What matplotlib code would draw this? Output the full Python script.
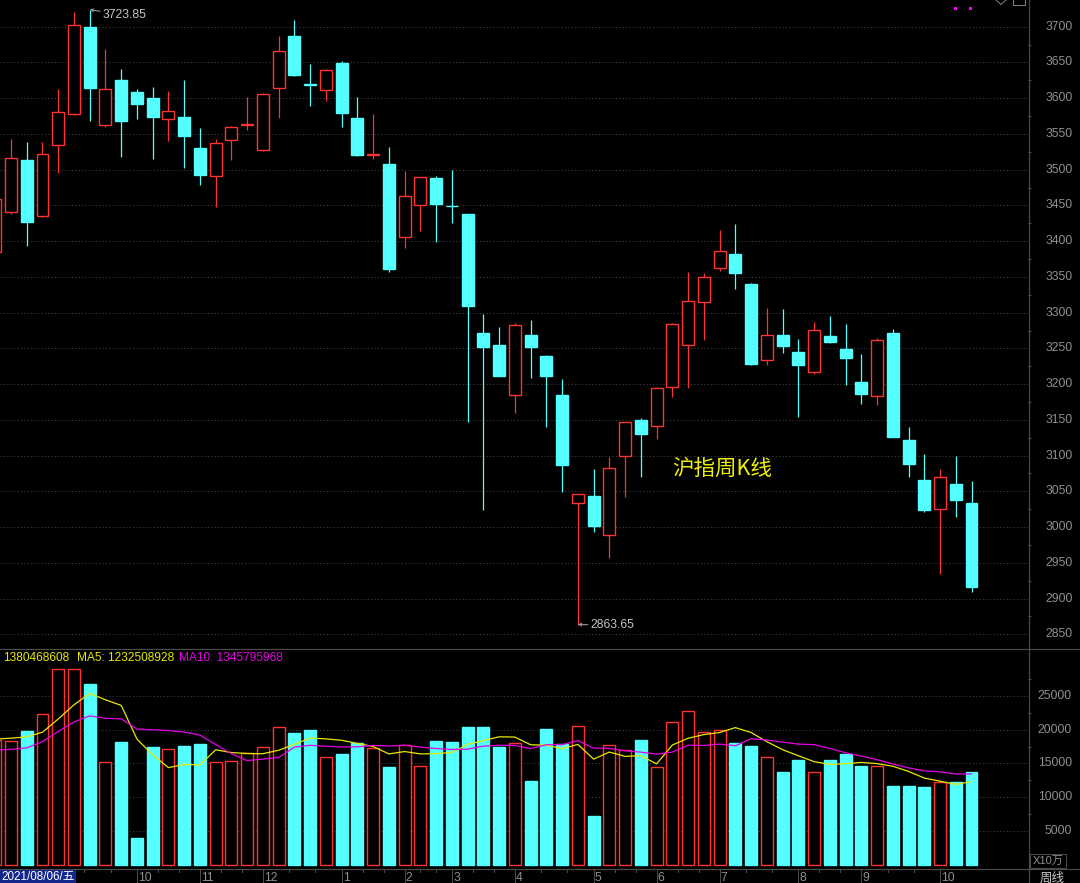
import numpy as np
import pandas as pd
import matplotlib
matplotlib.use("Agg")
import matplotlib.pyplot as plt
from matplotlib.lines import Line2D
from matplotlib.patches import Rectangle

plt.rcParams["font.family"] = ["Liberation Sans", "Noto Sans CJK SC", "DejaVu Sans"]

# ---------------------------------------------------------------------------
# Data: Shanghai Composite weekly bars
# ---------------------------------------------------------------------------
weeks = [
    "2021-08-06", "2021-08-13", "2021-08-20", "2021-08-27", "2021-09-03",
    "2021-09-10", "2021-09-17", "2021-09-24", "2021-09-30", "2021-10-08",
    "2021-10-15", "2021-10-22", "2021-10-29", "2021-11-05", "2021-11-12",
    "2021-11-19", "2021-11-26", "2021-12-03", "2021-12-10", "2021-12-17",
    "2021-12-24", "2021-12-31", "2022-01-07", "2022-01-14", "2022-01-21",
    "2022-01-28", "2022-02-11", "2022-02-18", "2022-02-25", "2022-03-04",
    "2022-03-11", "2022-03-18", "2022-03-25", "2022-04-01", "2022-04-08",
    "2022-04-15", "2022-04-22", "2022-04-29", "2022-05-06", "2022-05-13",
    "2022-05-20", "2022-05-27", "2022-06-02", "2022-06-10", "2022-06-17",
    "2022-06-24", "2022-07-01", "2022-07-08", "2022-07-15", "2022-07-22",
    "2022-07-29", "2022-08-05", "2022-08-12", "2022-08-19", "2022-08-26",
    "2022-09-02", "2022-09-09", "2022-09-16", "2022-09-23", "2022-09-30",
    "2022-10-14", "2022-10-21", "2022-10-28",
]
opens = [
    3385.2, 3441.2, 3513.1, 3435.6, 3534.5, 3578.3, 3699.2, 3562.1, 3625.9, 3608.2,
    3599.8, 3570.5, 3573.7, 3529.9, 3490.7, 3541.5, 3562.2, 3527.9, 3614.2, 3686.6,
    3619.4, 3611.9, 3649.6, 3572.3, 3521.2, 3507.9, 3406.2, 3451.0, 3488.3, 3449.6,
    3437.5, 3271.1, 3254.7, 3184.3, 3268.3, 3239.7, 3184.7, 3033.2, 3043.4, 2989.3,
    3099.0, 3149.3, 3141.0, 3195.5, 3254.3, 3314.9, 3362.8, 3381.6, 3340.0, 3233.7,
    3268.3, 3245.3, 3217.3, 3267.3, 3249.1, 3202.5, 3182.9, 3271.1, 3121.4, 3066.3,
    3024.8, 3059.8, 3033.2,
]
highs = [
    3470.0, 3542.5, 3538.3, 3538.3, 3612.4, 3720.6, 3723.85, 3668.4, 3640.8, 3612.4,
    3615.2, 3609.6, 3625.0, 3558.7, 3542.5, 3560.5, 3601.2, 3607.0, 3686.6, 3709.0,
    3647.8, 3641.0, 3652.0, 3601.6, 3577.9, 3531.3, 3498.1, 3490.0, 3491.1, 3499.5,
    3438.5, 3297.6, 3279.9, 3285.0, 3289.3, 3240.5, 3207.1, 3046.5, 3081.6, 3098.0,
    3147.5, 3152.0, 3196.0, 3285.0, 3356.4, 3355.0, 3415.6, 3424.0, 3341.0, 3306.0,
    3304.6, 3263.1, 3286.5, 3295.3, 3284.1, 3242.5, 3264.0, 3276.7, 3139.6, 3102.2,
    3081.6, 3099.4, 3064.0,
]
lows = [
    3370.0, 3438.4, 3393.6, 3434.0, 3495.7, 3577.0, 3568.5, 3560.1, 3518.1, 3571.3,
    3515.3, 3539.7, 3502.7, 3478.1, 3447.8, 3513.9, 3555.1, 3526.0, 3572.7, 3631.0,
    3589.1, 3596.1, 3560.1, 3519.5, 3515.3, 3357.2, 3390.0, 3414.6, 3399.2, 3425.8,
    3147.0, 3023.4, 3211.0, 3159.1, 3208.5, 3140.0, 3049.0, 2863.65, 2992.7, 2957.1,
    3042.5, 3069.6, 3123.6, 3181.5, 3195.0, 3261.7, 3358.6, 3332.6, 3227.0, 3226.7,
    3243.1, 3154.4, 3214.5, 3258.0, 3199.2, 3172.6, 3171.2, 3126.0, 3070.4, 3021.5,
    2933.9, 3013.7, 2908.7,
]
closes = [
    3458.5, 3515.9, 3427.2, 3521.5, 3580.2, 3702.8, 3613.8, 3612.4, 3568.5, 3592.3,
    3573.3, 3581.6, 3546.7, 3492.1, 3537.7, 3559.7, 3563.4, 3606.3, 3665.6, 3632.0,
    3618.6, 3639.4, 3579.7, 3520.5, 3522.0, 3361.4, 3462.7, 3489.7, 3452.4, 3448.8,
    3309.3, 3251.5, 3211.3, 3282.3, 3251.5, 3211.3, 3086.4, 3045.8, 3001.0, 3083.0,
    3146.6, 3130.6, 3194.1, 3283.7, 3316.7, 3349.4, 3386.6, 3355.8, 3227.7, 3268.3,
    3252.9, 3226.3, 3275.3, 3258.5, 3236.1, 3186.6, 3261.3, 3126.4, 3087.8, 3024.3,
    3070.4, 3038.3, 2916.1,
]
# weekly volume, unit X10万 shares
volumes = [
    18465, 18317, 19838, 22258, 28945, 28945, 26686, 15173, 18125, 4044,
    17387, 17181, 17535, 17830, 15173, 15321, 16502, 17387, 20384, 19542,
    19941, 15911, 16354, 18066, 17240, 14480, 17683, 14583, 18273, 18125,
    20428, 20428, 17432, 18066, 12458, 20133, 17875, 20531, 7203, 17683,
    16945, 18421, 14435, 21122, 22701, 19646, 19941, 18066, 17535, 15911,
    13742, 15469, 13697, 15520, 16450, 14627, 14627, 11720, 11720, 11572,
    12280, 12250, 13805,
]
# weeks just left of the window (only used to seed the MA lines)
earlier_volumes = [16800, 17800, 13000, 14000, 14900, 17600, 18900, 18800, 19200]

price_ticks = list(range(2850, 3701, 50))
volume_ticks = [5000, 10000, 15000, 20000, 25000]
header_last = "1380468608"
header_ma5 = "MA5: 1232508928"
header_ma10 = "MA10: 1345795968"
title_text = "沪指周K线"
weekday_names = ["一", "二", "三", "四", "五", "六", "日"]

# ---------------------------------------------------------------------------
# Styling
# ---------------------------------------------------------------------------
UP = "#ff3232"
DOWN = "#54ffff"
BG = "black"
GRID = "#3c3c3c"
FRAME = "#4a4a4a"
TXT = "#8f8f8f"
YELLOW = "#e8e800"
MAGENTA = "#e600e6"
PX = 0.72  # one pixel in points at dpi 100
EDGE_LW = 1.0

W, H = 1080, 883


def fx(px):
    return px / W


def fy(py):
    return 1 - py / H


fig = plt.figure(figsize=(W / 100, H / 100), dpi=100, facecolor=BG)
ax = fig.add_axes([0, fy(648), fx(1028), 648 / H])
axv = fig.add_axes([0, fy(868), fx(1028), (868 - 650) / H], sharex=ax)
axx = fig.add_axes([0, 0, fx(1028), (883 - 869) / H], sharex=ax)
for a in (ax, axv, axx):
    a.set_facecolor(BG)
    for s in a.spines.values():
        s.set_visible(False)

n = len(closes)
x = np.arange(n)
o = np.array(opens)
h = np.array(highs)
l = np.array(lows)
c = np.array(closes)
v = np.array(volumes, dtype=float)
up = c >= o
edge = np.where(up, UP, DOWN)
face = np.where(up, BG, DOWN)

# ---------------------------------------------------------------------------
# Price panel
# ---------------------------------------------------------------------------
ax.vlines(x, l, h, colors=edge, lw=0.9, zorder=2)
body_lo = np.minimum(o, c)
body_h = np.maximum(np.abs(c - o), 0.8)
ax.bar(x, body_h, width=0.76, bottom=body_lo, color=face, edgecolor=edge,
       lw=EDGE_LW, zorder=3)

ax.set_xlim(0.3014, 65.588)
ax.set_ylim(2830.8, 3737.4)
ax.set_yticks(price_ticks)
ax.set_yticks([p + 25 for p in price_ticks[:-1]], minor=True)
ax.yaxis.set_ticks_position("right")
ax.tick_params(axis="y", which="major", length=0, labelright=False)
ax.tick_params(axis="y", which="minor", length=3 * PX, width=PX, color=FRAME,
               direction="out")
ax.tick_params(axis="x", which="both", length=0, labelbottom=False)
ax.grid(axis="y", which="major", color=GRID, linestyle=(0, (1.2, 2.2)), lw=PX)
for p in price_ticks:
    ax.text(1073 / 1028, p, str(p), transform=ax.get_yaxis_transform(),
            ha="right", va="center", color=TXT, fontsize=8.7, clip_on=False)

i_hi = int(np.argmax(h))
i_lo = int(np.argmin(l))
ax.annotate(f"{h[i_hi]:.2f}", xy=(x[i_hi], h[i_hi]), xytext=(9.5, -3.8),
            textcoords="offset points", color="#c4c4c4", fontsize=8.7,
            ha="left", va="center",
            arrowprops=dict(arrowstyle="->", color="#a0a0a0", lw=PX,
                            shrinkA=0, shrinkB=0, mutation_scale=5))
ax.annotate(f"{l[i_lo]:.2f}", xy=(x[i_lo], l[i_lo]), xytext=(9.2, -0.5),
            textcoords="offset points", color="#c4c4c4", fontsize=8.7,
            ha="left", va="center",
            arrowprops=dict(arrowstyle="->", color="#a0a0a0", lw=PX,
                            shrinkA=0, shrinkB=0, mutation_scale=5))

ax.text(722 / 1028, 1 - 469 / 648, title_text, transform=ax.transAxes,
        ha="center", va="center", color="#f0f000", fontsize=15.5,
        family=["Noto Sans CJK SC", "DejaVu Sans"])

# ---------------------------------------------------------------------------
# Volume panel
# ---------------------------------------------------------------------------
axv.bar(x, v, width=0.76, color=face, edgecolor=edge, lw=EDGE_LW, zorder=3)
vol_all = pd.Series(earlier_volumes + volumes, dtype=float)
ma5 = vol_all.rolling(5).mean().to_numpy()[len(earlier_volumes):]
ma10 = vol_all.rolling(10).mean().to_numpy()[len(earlier_volumes):]
axv.plot(x, ma5, color=YELLOW, lw=0.9, zorder=4)
axv.plot(x, ma10, color=MAGENTA, lw=0.9, zorder=4)

axv.set_ylim(-428, 31750)
axv.set_yticks(volume_ticks)
axv.set_yticks([t + 2500 for t in volume_ticks], minor=True)
axv.yaxis.set_ticks_position("right")
axv.tick_params(axis="y", which="major", length=0, labelright=False)
axv.tick_params(axis="y", which="minor", length=3 * PX, width=PX, color=FRAME,
                direction="out")
axv.tick_params(axis="x", which="both", length=0, labelbottom=False)
axv.grid(axis="y", which="major", color=GRID, linestyle=(0, (1.2, 2.2)), lw=PX)
for t in volume_ticks:
    axv.text(1072 / 1028, t, str(t), transform=axv.get_yaxis_transform(),
             ha="right", va="center", color=TXT, fontsize=8.7, clip_on=False)

fig.text(fx(3), fy(657.8), header_last, color=YELLOW, fontsize=8.6,
         ha="left", va="center")
fig.text(fx(77), fy(657.8), header_ma5, color=YELLOW, fontsize=8.6,
         ha="left", va="center")
fig.text(fx(179), fy(657.8), header_ma10, color=MAGENTA, fontsize=8.6,
         ha="left", va="center")

# ---------------------------------------------------------------------------
# Date strip
# ---------------------------------------------------------------------------
DATE_BOX_PX = 76
axx.set_ylim(0, 1)
axx.set_xticks([])
axx.set_yticks([])
dates = pd.to_datetime(weeks)
months = dates.month.to_numpy()
starts = [k for k in range(1, n) if months[k] != months[k - 1]]
fig.canvas.draw()
for k in starts:
    xpix = ax.transData.transform((x[k], 0))[0]
    if xpix < DATE_BOX_PX + 8:  # hidden under the date box
        continue
    axx.axvline(x[k], color=FRAME, lw=PX)
    axx.text(x[k] + 0.08, 0.38, str(months[k]), color=TXT, fontsize=8.7,
             ha="left", va="center")
for a, b in zip(starts[:-1], starts[1:]):
    for frac in (1 / 3, 2 / 3):
        axx.axvline(a + (b - a) * frac, ymin=0.78, ymax=1, color=FRAME, lw=PX)

first = dates[0]
fig.patches.append(Rectangle((0, fy(883)), fx(DATE_BOX_PX), 13 / H,
                             transform=fig.transFigure, facecolor="#14288c",
                             edgecolor="none", zorder=5))
fig.text(fx(1.5), fy(877.5),
         first.strftime("%Y/%m/%d/") + weekday_names[first.weekday()],
         color="white", fontsize=8.4, ha="left", va="center", zorder=6)

# ---------------------------------------------------------------------------
# Frame lines and right-side bits
# ---------------------------------------------------------------------------
frame_lines = [
    ([0, 1], [fy(649), fy(649)]),
    ([0, 1], [fy(869), fy(869)]),
    ([fx(1028.5), fx(1028.5)], [0, 1]),
]
for xs, ys in frame_lines:
    fig.lines.append(Line2D(xs, ys, transform=fig.transFigure, color=FRAME,
                            lw=PX * 1.2, zorder=4))

fig.patches.append(Rectangle((fx(1030), fy(868)), fx(36), 14 / H,
                             transform=fig.transFigure, facecolor="none",
                             edgecolor=FRAME, lw=PX, zorder=5))
fig.text(fx(1048), fy(861), "X10万", color=TXT, fontsize=8, ha="center",
         va="center")
fig.text(fx(1052), fy(878.5), "周线", color="#c8c8c8", fontsize=9,
         ha="center", va="center")

for mx in (955, 970.5):
    fig.patches.append(Rectangle((fx(mx - 1.5), fy(9.8)), fx(3), 3 / H,
                                 transform=fig.transFigure, facecolor="#ff00ff",
                                 edgecolor="none", zorder=5))
fig.lines.append(Line2D([fx(996), fx(1001), fx(1006)], [fy(0), fy(4.5), fy(0)],
                        transform=fig.transFigure, color="#808080", lw=PX))
fig.patches.append(Rectangle((fx(1013), fy(5)), fx(12), 7 / H,
                             transform=fig.transFigure, facecolor="none",
                             edgecolor="#808080", lw=PX))

fig.savefig("out.png", dpi=100, facecolor=BG)
